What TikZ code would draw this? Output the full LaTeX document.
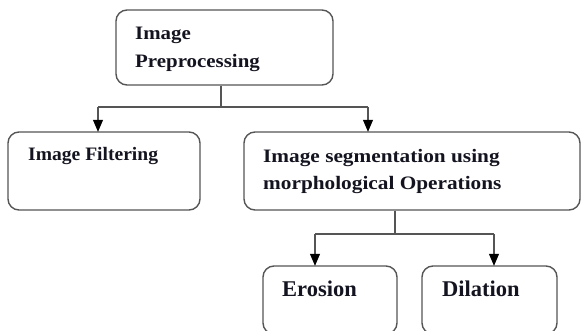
\documentclass[tikz,border=0pt]{standalone}
\usepackage{fontspec}
\setmainfont{Liberation Serif}
\newfontfamily\fa{Liberation Serif}[FakeStretch=1.10]
\newfontfamily\fb{Liberation Serif}[FakeStretch=1.03]
\newfontfamily\fc{Liberation Serif}[FakeStretch=1.12]
\usetikzlibrary{arrows.meta}
\definecolor{boxline}{HTML}{555555}
\definecolor{txt}{HTML}{141420}
\tikzset{
  box/.style={draw=boxline, line width=1.4pt, rounded corners=11pt, inner sep=0pt},
  conn/.style={draw=boxline, line width=1.1pt},
  arr/.style={conn, -{Triangle[length=12pt,width=10pt,fill=black,color=black]}, shorten >=-0.5pt},
  lbl/.style={anchor=base west, inner sep=0pt, text=txt},
}
\begin{document}
\begin{tikzpicture}[x=1pt,y=-1pt]
\useasboundingbox (0,0) rectangle (582,331);
% boxes
\node[box, minimum width=217pt, minimum height=75pt] (top) at (224.5,47.5) {};
\node[box, minimum width=192pt, minimum height=78pt] (filt) at (104,171) {};
\node[box, minimum width=336pt, minimum height=78pt] (seg) at (412,171) {};
\node[box, minimum width=134pt, minimum height=68pt] (ero) at (330,300) {};
\node[box, minimum width=135pt, minimum height=68pt] (dil) at (489.5,300) {};
% texts
\node[lbl, font=\fa\bfseries\fontsize{19}{22}\selectfont] (t1) at (135,40) {Image};
\node[lbl, font=\fa\bfseries\fontsize{19}{22}\selectfont] (t2) at (135,68) {Preprocessing};
\node[lbl, font=\fb\bfseries\fontsize{19}{22}\selectfont] (t3) at (28,161) {Image Filtering};
\node[lbl, font=\fc\bfseries\fontsize{19}{22}\selectfont] (t4) at (263,163) {Image segmentation using};
\node[lbl, font=\fc\bfseries\fontsize{19}{22}\selectfont] (t5) at (263,190) {morphological Operations};
\node[lbl, font=\bfseries\fontsize{22.5}{26}\selectfont] (t6) at (282,297) {Erosion};
\node[lbl, font=\bfseries\fontsize{22.5}{26}\selectfont] (t7) at (442,297) {Dilation};
% connectors
\draw[conn] ([xshift=-3.5pt]top.south) -- ++(0,22) coordinate (j1);
\coordinate (la) at (98,107);
\coordinate (ra) at (368,107);
\draw[conn] (la) -- (ra);
\draw[arr] (la) -- (la |- filt.north);
\draw[arr] (ra) -- (ra |- seg.north);
\draw[conn] ([xshift=-17pt]seg.south) -- ++(0,24) coordinate (j2);
\coordinate (lb) at (315,234);
\coordinate (rb) at (494,234);
\draw[conn] (lb) -- (rb);
\draw[arr] (lb) -- (lb |- ero.north);
\draw[arr] (rb) -- (rb |- dil.north);
\end{tikzpicture}
\end{document}
